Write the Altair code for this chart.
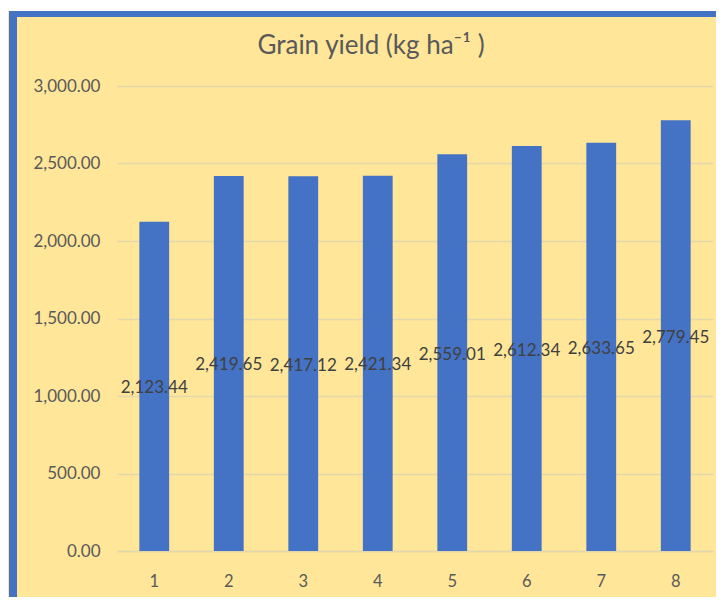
import altair as alt
import pandas as pd

categories = ["1", "2", "3", "4", "5", "6", "7", "8"]
yields = [2123.44, 2419.65, 2417.12, 2421.34, 2559.01, 2612.34, 2633.65, 2779.45]
y_ticks = [0, 500, 1000, 1500, 2000, 2500, 3000]

df = pd.DataFrame({"treatment": categories, "yield": yields})

FONT = "Lato"
BLUE = "#4472C4"
YELLOW = "#FFE699"
GRID = "#E3D7AC"

x_enc = alt.X(
    "treatment:O",
    sort=categories,
    title=None,
    scale=alt.Scale(paddingInner=0.6, paddingOuter=0.3),
    axis=alt.Axis(labelAngle=0, ticks=False, domain=True, domainColor=GRID,
                  domainWidth=1.5, labelPadding=22, labelFontSize=16.5,
                  labelColor="#595959", labelFont=FONT),
)
y_enc = alt.Y(
    "yield:Q",
    title=None,
    scale=alt.Scale(domain=[0, 3000]),
    axis=alt.Axis(values=y_ticks, format=",.2f", ticks=False, domain=False,
                  gridColor=GRID, gridWidth=1.5, labelPadding=17,
                  labelFontSize=17, labelColor="#595959", labelFont=FONT),
)

bars = alt.Chart(df).mark_bar(color=BLUE).encode(x=x_enc, y=y_enc)

labels = alt.Chart(df).transform_calculate(mid="datum['yield'] / 2").mark_text(
    font=FONT, fontSize=17, color="#404040", baseline="middle", dy=2
).encode(
    x=alt.X("treatment:O", sort=categories),
    y=alt.Y("mid:Q"),
    text=alt.Text("yield:Q", format=",.2f"),
)

# decorative frame (Excel chart border)
white_strip = alt.Chart(df).mark_rect(color="white").encode(
    x=alt.value(-120), x2=alt.value(620), y=alt.value(-80), y2=alt.value(-75)
)
left_border = alt.Chart(df).mark_rule(color=BLUE, strokeWidth=8).encode(
    x=alt.value(-104), y=alt.value(-75), y2=alt.value(600)
)
top_border = alt.Chart(df).mark_rule(color=BLUE, strokeWidth=6).encode(
    y=alt.value(-72), x=alt.value(-108), x2=alt.value(620)
)

chart = alt.layer(bars, labels, white_strip, left_border, top_border).properties(
    width=596,
    height=465,
    autosize=alt.AutoSizeParams(type="none"),
    padding={"left": 109, "top": 78, "right": 3, "bottom": 46},
    background=YELLOW,
    title=alt.Title(
        "Grain yield (kg ha⁻¹ )",
        font=FONT, fontSize=26, fontWeight="normal", color="#595959",
        anchor="middle", dx=-44, dy=83, offset=30,
    ),
).configure_view(stroke=None)

chart.save("out.html", embed_options={"renderer": "svg", "actions": False})
